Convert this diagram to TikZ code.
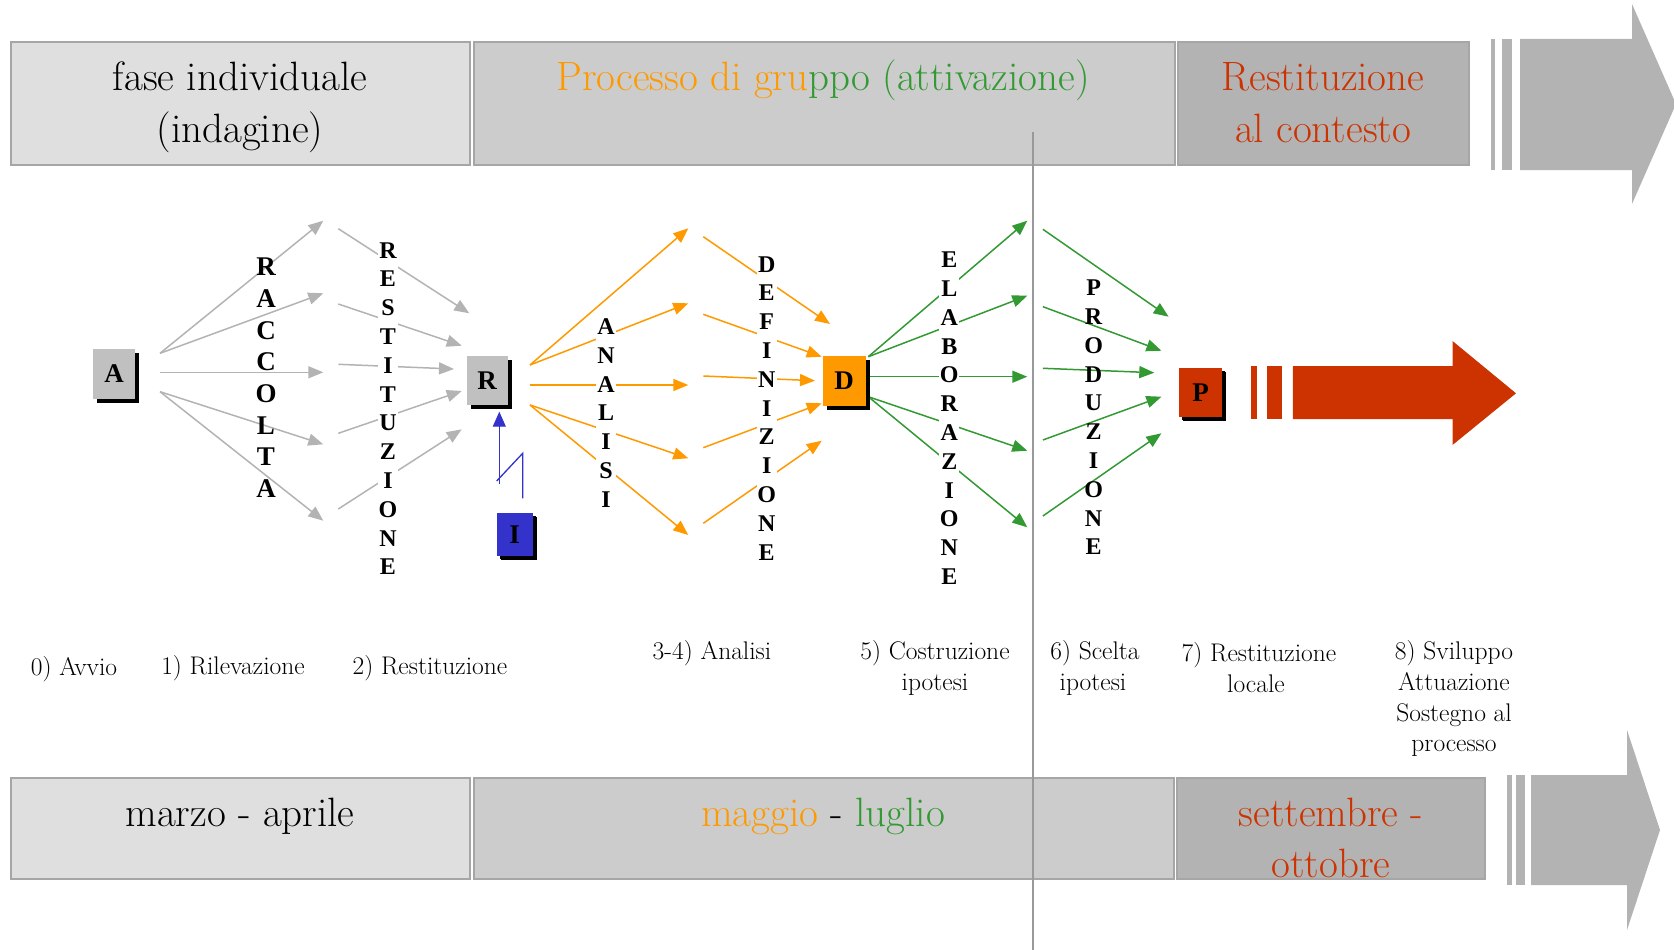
\documentclass[tikz,border=0pt]{standalone}
\usepackage{fontspec}
\newfontfamily\letterfont{Liberation Serif}
\usetikzlibrary{arrows.meta,shadows}
\definecolor{boxA}{HTML}{DFDFDF}
\definecolor{boxB}{HTML}{CCCCCC}
\definecolor{boxC}{HTML}{B3B3B3}
\definecolor{boxline}{HTML}{A6A6A6}
\definecolor{ggray}{HTML}{B3B3B3}
\definecolor{orng}{HTML}{FF9900}
\definecolor{grn}{HTML}{339933}
\definecolor{rd}{HTML}{CC3300}
\definecolor{blu}{HTML}{3333CC}
\definecolor{vline}{HTML}{999999}
\definecolor{keygray}{HTML}{C0C0C0}
\begin{document}
\begin{tikzpicture}[x=1pt,y=-1pt,
  phase/.style={draw=boxline,line width=2pt},
  bigtext/.style={font=\fontsize{41}{52}\selectfont,anchor=base,inner sep=0pt},
  lab/.style={font=\fontsize{25.5}{31}\selectfont,anchor=base,inner sep=0pt},
  key/.style={inner sep=0pt,font=\letterfont\bfseries\fontsize{27}{27}\selectfont,
    drop shadow={shadow xshift=4pt,shadow yshift=-4pt,fill=black,opacity=1}},
  col/.style={align=center,inner xsep=0pt,inner ysep=2pt,minimum width=20pt,
    font=\letterfont\bfseries\fontsize{24}{28.8}\selectfont},
  colw/.style={col,fill=white},
  arr/.style={line width=1.5pt,-{Triangle[length=15pt,width=12pt]}},
  garr/.style={arr,draw=ggray},
  oarr/.style={arr,draw=orng},
  grarr/.style={arr,draw=grn},
]
\useasboundingbox (0,0) rectangle (1674,950);

% ---------- phase boxes (top) ----------
\draw[phase,fill=boxA] (11,42) rectangle (470,165);
\draw[phase,fill=boxB] (474,42) rectangle (1175,165);
\draw[phase,fill=boxC] (1178,42) rectangle (1469,165);
\fill[boxC] (1490.6,39) rectangle (1494.6,170);
\fill[boxC] (1502,39) rectangle (1512,170);
\fill[boxC] (1520,39) -- (1632,39) -- (1632,4) -- (1676,104) -- (1632,204) -- (1632,170) -- (1520,170) -- cycle;

\node[bigtext] (t1a) at (240,90) {fase individuale};
\node[bigtext] (t1b) at (240,142) {(indagine)};
\node[bigtext] (t2) at (823,90) {\textcolor{orng}{Processo di gru}\textcolor{grn}{ppo (attivazione)}};
\node[bigtext,text=rd] (t3a) at (1323,90) {Restituzione};
\node[bigtext,text=rd] (t3b) at (1323,142) {al contesto};

% ---------- phase boxes (bottom) ----------
\draw[phase,fill=boxA] (11,778) rectangle (470,879);
\draw[phase,fill=boxB] (474,778) rectangle (1174,879);
\draw[phase,fill=boxC] (1177,778) rectangle (1485,879);
\fill[boxC] (1507,775) rectangle (1512,885);
\fill[boxC] (1516,775) rectangle (1524.5,885);
\fill[boxC] (1531,775) -- (1627,775) -- (1627,730) -- (1660,830) -- (1627,930) -- (1627,885) -- (1531,885) -- cycle;

\node[bigtext] (b1) at (240,826) {marzo - aprile};
\node[bigtext] (b2) at (823,826) {\textcolor{orng}{maggio} - \textcolor{grn}{luglio}};
\node[bigtext,text=rd] (b3a) at (1331,826) {settembre -};
\node[bigtext,text=rd] (b3b) at (1331,877) {ottobre};

% ---------- coordinates ----------
\coordinate (sa1) at (160,353.3);
\coordinate (sa3) at (160,372.3);
\coordinate (sa4) at (160,391.7);
\coordinate (ta1) at (323.3,220.7);
\coordinate (ta2) at (323.3,293.3);
\coordinate (ta3) at (323.3,372.3);
\coordinate (ta4) at (323.3,444.3);
\coordinate (ta5) at (323.3,520.7);

\coordinate (sr1) at (338.3,228.7);
\coordinate (sr2) at (338.3,304);
\coordinate (sr3) at (338.3,364.3);
\coordinate (sr4) at (338.3,433.3);
\coordinate (sr5) at (338.3,509);
\coordinate (tr1) at (469.3,313.3);
\coordinate (tr2) at (461.7,345.7);
\coordinate (tr3) at (454,369);
\coordinate (tr4) at (461.7,391);
\coordinate (tr5) at (461.7,429.3);

\coordinate (so1) at (530,365);
\coordinate (so3) at (530,385);
\coordinate (so4) at (530,405);
\coordinate (to1) at (688.3,228.3);
\coordinate (to2) at (688.3,303.3);
\coordinate (to3) at (688.3,385);
\coordinate (to4) at (688.3,458.3);
\coordinate (to5) at (688.3,535);

\coordinate (sd1) at (703.3,236.7);
\coordinate (sd2) at (703.3,314.3);
\coordinate (sd3) at (703.3,376);
\coordinate (sd4) at (703.3,447.7);
\coordinate (sd5) at (703.3,523.3);
\coordinate (td1) at (830,324);
\coordinate (td2) at (821.7,356.7);
\coordinate (td3) at (815,380.7);
\coordinate (td4) at (821.7,403.3);
\coordinate (td5) at (821.7,440.7);

\coordinate (se1) at (868.3,356.7);
\coordinate (se3) at (868.3,376.7);
\coordinate (se4) at (868.3,396.7);
\coordinate (te1) at (1027.3,220.7);
\coordinate (te2) at (1027.3,295.7);
\coordinate (te3) at (1027.3,376.7);
\coordinate (te4) at (1027.3,450.7);
\coordinate (te5) at (1027.3,527.3);

\coordinate (sp1) at (1042.9,229.3);
\coordinate (sp2) at (1042.9,306.7);
\coordinate (sp3) at (1042.9,368.3);
\coordinate (sp4) at (1042.9,440);
\coordinate (sp5) at (1042.9,516);
\coordinate (tp1) at (1168.6,316.7);
\coordinate (tp2) at (1161.4,350.7);
\coordinate (tp3) at (1154.3,372.7);
\coordinate (tp4) at (1161.4,396.7);
\coordinate (tp5) at (1161.4,433.3);

% ---------- connectors ----------
\draw[garr] (sa1) -- (ta1);
\draw[garr] (sa1) -- (ta2);
\draw[garr] (sa3) -- (ta3);
\draw[garr] (sa4) -- (ta4);
\draw[garr] (sa4) -- (ta5);

\draw[garr] (sr1) -- (tr1);
\draw[garr] (sr2) -- (tr2);
\draw[garr] (sr3) -- (tr3);
\draw[garr] (sr4) -- (tr4);
\draw[garr] (sr5) -- (tr5);

\draw[oarr] (so1) -- (to1);
\draw[oarr] (so1) -- (to2);
\draw[oarr] (so3) -- (to3);
\draw[oarr] (so4) -- (to4);
\draw[oarr] (so4) -- (to5);

\draw[oarr] (sd1) -- (td1);
\draw[oarr] (sd2) -- (td2);
\draw[oarr] (sd3) -- (td3);
\draw[oarr] (sd4) -- (td4);
\draw[oarr] (sd5) -- (td5);

\draw[grarr] (se1) -- (te1);
\draw[grarr] (se1) -- (te2);
\draw[grarr] (se3) -- (te3);
\draw[grarr] (se4) -- (te4);
\draw[grarr] (se4) -- (te5);

\draw[grarr] (sp1) -- (tp1);
\draw[grarr] (sp2) -- (tp2);
\draw[grarr] (sp3) -- (tp3);
\draw[grarr] (sp4) -- (tp4);
\draw[grarr] (sp5) -- (tp5);

% ---------- vertical words ----------
\node[col,font=\letterfont\bfseries\fontsize{27}{31.7}\selectfont] (wRacc) at (266,377.8)
  {R\\A\\C\\C\\O\\L\\T\\A};
\node[colw] (wRest) at (388,408.7) {R\\E\\S\\T\\I\\T\\U\\Z\\I\\O\\N\\E};
\node[colw] (wAnal) at (606,413) {A\\N\\A\\L\\I\\S\\I};
\node[colw] (wDef) at (766.7,408.3) {D\\E\\F\\I\\N\\I\\Z\\I\\O\\N\\E};
\node[colw] (wElab) at (949.3,418.3) {E\\L\\A\\B\\O\\R\\A\\Z\\I\\O\\N\\E};
\node[col] (wProd) at (1093.6,417.5) {P\\R\\O\\D\\U\\Z\\I\\O\\N\\E};

% ---------- key boxes ----------
\node[key,fill=keygray,minimum width=42pt,minimum height=50pt] (A) at (114,374) {A};
\node[key,fill=keygray,minimum width=41pt,minimum height=49pt] (R) at (487,380.5) {R};
\node[key,fill=orng,minimum width=43pt,minimum height=50pt] (D) at (844,380.7) {D};
\node[key,fill=blu,minimum width=36pt,minimum height=43pt,drop shadow={shadow xshift=3pt,shadow yshift=-3pt,fill=black,opacity=1}] (I) at (514.7,534.3) {I};
\node[key,fill=rd,minimum width=43pt,minimum height=49pt,drop shadow={shadow xshift=3pt,shadow yshift=-3pt,fill=black,opacity=1}] (P) at (1200.7,392.8) {P};

% ---------- lightning from I to R ----------
\coordinate (z0) at (522.7,498.3);
\coordinate (z1) at (522.7,453.3);
\coordinate (z2) at (496.7,481);
\coordinate (z3) at (499.3,484);
\coordinate (z4) at (499.3,411.7);
\draw[blu,line width=1.3pt] (z0) -- (z1) -- (z2);
\draw[blu,line width=1.3pt,-{Triangle[length=15pt,width=13pt]}] (z3) -- (z4);

% ---------- big red arrow ----------
\fill[rd] (1250.7,366) rectangle (1257.1,419);
\fill[rd] (1267,366) rectangle (1282,419);
\fill[rd] (1292.9,366) -- (1452.5,366) -- (1452.5,341) -- (1516,393.3) -- (1452.5,445) -- (1452.5,419) -- (1292.9,419) -- cycle;

% ---------- step labels ----------
\node[lab] (l0) at (74,675) {0) Avvio};
\node[lab] (l1) at (233,674) {1) Rilevazione};
\node[lab] (l2) at (430,674) {2) Restituzione};
\node[lab] (l34) at (712,659) {3-4) Analisi};
\node[lab] (l5a) at (935,659) {5) Costruzione};
\node[lab] (l5b) at (935,690) {ipotesi};
\node[lab] (l6a) at (1095,659) {6) Scelta};
\node[lab] (l6b) at (1093,690) {ipotesi};
\node[lab] (l7a) at (1259,661) {7) Restituzione};
\node[lab] (l7b) at (1256,692) {locale};
\node[lab] (l8a) at (1454,659) {8) Sviluppo};
\node[lab] (l8b) at (1454,690) {Attuazione};
\node[lab] (l8c) at (1454,721) {Sostegno al};
\node[lab] (l8d) at (1454,751) {processo};

% ---------- separator line ----------
\coordinate (vtop) at (1033,132);
\coordinate (vbot) at (1033,950);
\draw[vline,line width=1.5pt] (vtop) -- (vbot);
\end{tikzpicture}
\end{document}
